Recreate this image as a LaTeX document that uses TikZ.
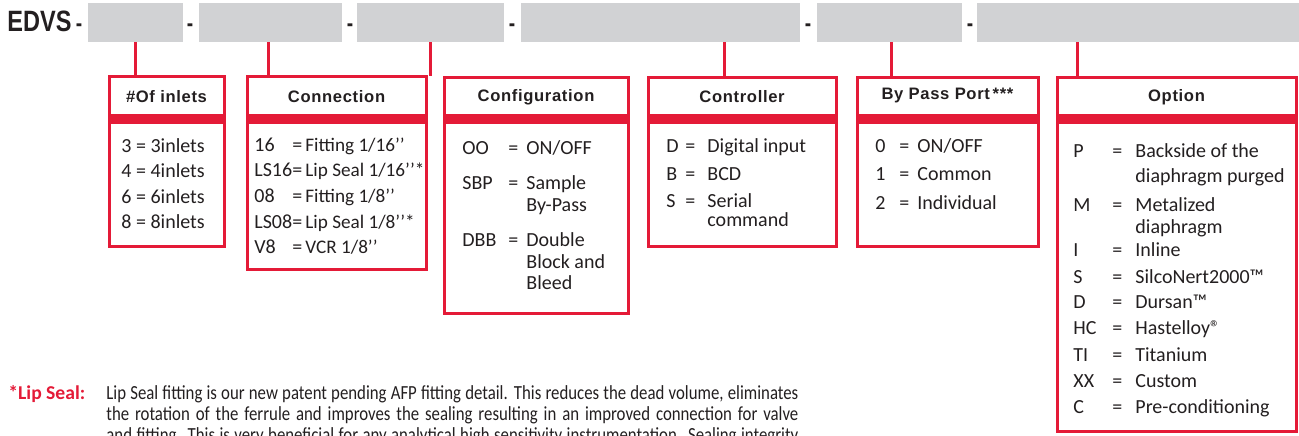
\documentclass[tikz,border=0pt]{standalone}
\usepackage{fontspec}
\setmainfont{Carlito}
\newfontfamily\headfont[LetterSpace=4]{Liberation Sans}
\newfontfamily\logofont[FakeStretch=0.8]{Liberation Sans}
\newfontfamily\notefont[FakeStretch=0.84]{Carlito}
\usepackage{tikz}
\usetikzlibrary{fit}
\definecolor{edred}{RGB}{228,26,55}
\definecolor{slotgray}{RGB}{209,210,212}
\definecolor{ink}{RGB}{35,31,32}

\begin{document}
\begin{tikzpicture}[x=0.5pt, y=-0.5pt,
  slot/.style={fill=slotgray, inner sep=0pt},
  frame/.style={draw=edred, line width=1.5pt, inner sep=0pt},
  band/.style={fill=edred, inner sep=0pt},
  link/.style={draw=edred, line width=1.5pt},
  head/.style={inner sep=0pt, text=ink, font=\headfont\bfseries\fontsize{8.3}{10}\selectfont},
  item/.style={anchor=base west, inner sep=0pt, text=ink, font=\fontsize{10}{12}\selectfont},
  sep/.style={anchor=base, inner sep=0pt, text=ink, font=\logofont\bfseries\fontsize{14.7}{16}\selectfont},
  note/.style={anchor=base west, inner sep=0pt, text=ink, font=\notefont\fontsize{10}{11}\selectfont}
]
  \useasboundingbox (0,0) rectangle (1299,435);

  % order code
  \node[sep, anchor=base west] (edvs) at (7,31) {EDVS};
  \node[slot, fit={(88,3) (183,42)}] (slot1) {};
  \node[slot, fit={(199,3) (342,42)}] (slot2) {};
  \node[slot, fit={(357,3) (504,42)}] (slot3) {};
  \node[slot, fit={(521,3) (800,42)}] (slot4) {};
  \node[slot, fit={(817,3) (962,42)}] (slot5) {};
  \node[slot, fit={(977,3) (1299,42)}] (slot6) {};
  \node[sep, font=\logofont\bfseries\fontsize{12}{14}\selectfont] (dash1) at (79,31) {-};
  \node[sep, font=\logofont\bfseries\fontsize{12}{14}\selectfont] (dash2) at (190,31) {-};
  \node[sep, font=\logofont\bfseries\fontsize{12}{14}\selectfont] (dash3) at (350,31) {-};
  \node[sep, font=\logofont\bfseries\fontsize{12}{14}\selectfont] (dash4) at (512,31) {-};
  \node[sep, font=\logofont\bfseries\fontsize{12}{14}\selectfont] (dash5) at (808,31) {-};
  \node[sep, font=\logofont\bfseries\fontsize{12}{14}\selectfont] (dash6) at (970,31) {-};

  % taps under the slots
  \coordinate (tap1) at (135,42);
  \coordinate (tap2) at (268,42);
  \coordinate (tap3) at (430,42);
  \coordinate (tap4) at (724,42);
  \coordinate (tap5) at (891,42);
  \coordinate (tap6) at (1077,42);

  % field boxes
  \node[frame, fit={(109,76) (224,246)}] (inlets) {};
  \node[frame, fit={(247,76) (426,269)}] (conn) {};
  \node[frame, fit={(444,77) (628,313)}] (config) {};
  \node[frame, fit={(648,77) (836,246)}] (ctrl) {};
  \node[frame, fit={(857,77) (1038,246)}] (bypass) {};
  \node[frame, fit={(1057,77) (1296,431)}] (option) {};

  \node[band, fit={(109,114) (224,124)}] (inletsband) {};
  \node[band, fit={(247,114) (426,124)}] (connband) {};
  \node[band, fit={(444,114) (628,124)}] (configband) {};
  \node[band, fit={(648,114) (836,124)}] (ctrlband) {};
  \node[band, fit={(857,114) (1038,124)}] (bypassband) {};
  \node[band, fit={(1057,114) (1296,124)}] (optionband) {};

  \node[head] (inletshead) at (inlets.north |- 0,97) {\#Of inlets};
  \node[head] (connhead) at (conn.north |- 0,97) {Connection};
  \node[head] (confighead) at (config.north |- 0,97) {Configuration};
  \node[head] (ctrlhead) at (ctrl.north |- 0,97) {Controller};
  \node[head] (bypasshead) at (bypass.north |- 0,96) {By Pass Port\,***};
  \node[head] (optionhead) at (option.north |- 0,97) {Option};

  \draw[link] (tap1) -- (tap1 |- inlets.north);
  \draw[link] (tap2) -- (tap2 |- conn.north);
  \draw[link] (tap3) -- (tap3 |- config.north);
  \draw[link] (tap4) -- (tap4 |- ctrl.north);
  \draw[link] (tap5) -- (tap5 |- bypass.north);
  \draw[link] (tap6) -- (tap6 |- option.north);

  % box contents
  \foreach \k/\y [count=\n] in {3/152, 4/177, 6/203, 8/228}
    \node[item] (inl\n) at (121,\y) {\k\ = \k inlets};

  \foreach \k/\v/\y [count=\n] in {16/{Fitting 1/16’’}/151, LS16/{Lip Seal 1/16’’*}/176,
      08/{Fitting 1/8’’}/202, LS08/{Lip Seal 1/8’’*}/228, V8/{VCR 1/8’’}/253} {
    \node[item] (connk\n) at (254,\y) {\k};
    \node[item] (conne\n) at (292,\y) {=};
    \node[item, font=\fontsize{9.6}{12}\selectfont] (connv\n) at (305,\y) {\v};
  }

  \foreach \k/\v/\y [count=\n] in {OO/{ON/OFF}/154, SBP/Sample/189, DBB/Double/246} {
    \node[item] (cfgk\n) at (462,\y) {\k};
    \node[item] (cfge\n) at (508,\y) {=};
    \node[item] (cfgv\n) at (526,\y) {\v};
  }
  \node[item] (cfgx1) at (526,211) {By-Pass};
  \node[item] (cfgx2) at (526,268) {Block and};
  \node[item] (cfgx3) at (526,289) {Bleed};

  \foreach \k/\v/\y [count=\n] in {D/Digital input/152, B/BCD/180, S/Serial/207} {
    \node[item] (ctlk\n) at (666,\y) {\k};
    \node[item] (ctle\n) at (685,\y) {=};
    \node[item] (ctlv\n) at (707,\y) {\v};
  }
  \node[item] (ctlx1) at (707,226) {command};

  \foreach \k/\v/\y [count=\n] in {0/{ON/OFF}/152, 1/Common/180, 2/Individual/209} {
    \node[item] (bpk\n) at (875,\y) {\k};
    \node[item] (bpe\n) at (899,\y) {=};
    \node[item] (bpv\n) at (917,\y) {\v};
  }

  \foreach \k/\v/\y [count=\n] in {P/Backside of the/157, M/Metalized/211, I/Inline/256,
      S/SilcoNert2000™/283, D/Dursan™/308, HC/{Hastelloy®}/334,
      TI/Titanium/361, XX/Custom/387, C/Pre-conditioning/413} {
    \node[item] (optk\n) at (1073,\y) {\k};
    \node[item] (opte\n) at (1112,\y) {=};
    \node[item] (optv\n) at (1135,\y) {\v};
  }
  \node[item] (optx1) at (1135,182) {diaphragm purged};
  \node[item] (optx2) at (1135,233) {diaphragm};

  % footnote
  \node[note, text=edred, font=\bfseries\fontsize{9.8}{11}\selectfont] (lipkey) at (8,399) {*Lip Seal:};
  \node[note] (note1) at (106,399) {\makebox[346pt][s]{Lip Seal fitting is our new patent pending AFP fitting detail. This reduces the dead volume, eliminates}};
  \node[note] (note2) at (106,420) {\makebox[346pt][s]{the rotation of the ferrule and improves the sealing resulting in an improved connection for valve}};
  \node[note] (note3) at (106,441) {\makebox[346pt][s]{and fitting. This is very beneficial for any analytical high sensitivity instrumentation. Sealing integrity}};
\end{tikzpicture}
\end{document}
